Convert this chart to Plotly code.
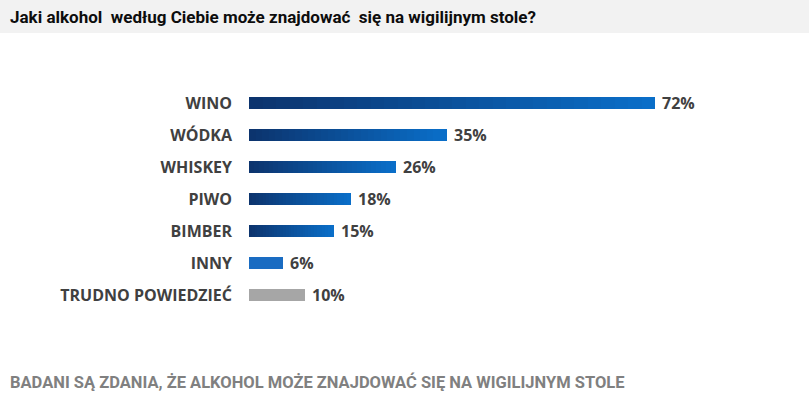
import plotly.graph_objects as go

categories = ["WINO", "WÓDKA", "WHISKEY", "PIWO", "BIMBER", "INNY", "TRUDNO POWIEDZIEĆ"]
values = [72, 35, 26, 18, 15, 6, 10]
value_labels = ["72%", "35%", "26%", "18%", "15%", "6%", "10%"]
bar_style = ["gradient", "gradient", "gradient", "gradient", "gradient", "flat", "gray"]

title_text = "Jaki alkohol  według Ciebie może znajdować  się na wigilijnym stole?"
footer_text = "BADANI SĄ ZDANIA, ŻE ALKOHOL MOŻE ZNAJDOWAĆ SIĘ NA WIGILIJNYM STOLE"

DARK = (12, 52, 110)
BRIGHT = (10, 110, 200)
FLAT = "#1a6cc2"
GRAY = "#a6a6a6"
N = 30

W_PLOT = 507.6
H_PLOT = 224.0

def lerp(c1, c2, t):
    return "rgb(%d,%d,%d)" % tuple(round(a + (b - a) * t) for a, b in zip(c1, c2))

fig = go.Figure()
for k in range(N):
    t = k / (N - 1)
    cols = []
    for s in bar_style:
        if s == "gradient":
            cols.append(lerp(DARK, BRIGHT, t))
        elif s == "flat":
            cols.append(FLAT)
        else:
            cols.append(GRAY)
    fig.add_trace(go.Bar(
        y=categories, x=[v / N for v in values], orientation="h",
        marker=dict(color=cols, line=dict(width=0)),
        showlegend=False, hoverinfo="skip",
    ))

for cat, v, lab in zip(categories, values, value_labels):
    fig.add_annotation(x=v, y=cat, xref="x", yref="y", text=lab, showarrow=False,
                       xanchor="left", yanchor="middle", xshift=5,
                       font=dict(family="Open Sans", size=16, color="#404040", weight="bold"))

fig.update_layout(
    width=809, height=399,
    margin=dict(l=249, r=52, t=87, b=88),
    paper_bgcolor="white", plot_bgcolor="white",
    barmode="stack", bargap=0.62,
    xaxis=dict(range=[0, 90], visible=False, fixedrange=True),
    yaxis=dict(categoryorder="array", categoryarray=categories, autorange="reversed",
               showgrid=False, zeroline=False, showline=False, ticks="",
               ticklabelstandoff=16, fixedrange=True,
               tickfont=dict(family="Open Sans", size=16, color="#404040", weight="bold")),
    font=dict(family="Open Sans"),
)

fig.add_shape(type="rect", xref="paper", yref="paper",
              x0=-249 / W_PLOT, x1=560 / W_PLOT, y0=278 / H_PLOT, y1=311 / H_PLOT,
              fillcolor="#f2f2f2", line=dict(width=0), layer="below")

fig.add_annotation(text=title_text, xref="paper", yref="paper",
                   x=-241 / W_PLOT, y=(311 - 17) / H_PLOT, xanchor="left", yanchor="middle",
                   showarrow=False,
                   font=dict(family="Roboto", size=17, color="#0d0d0d", weight="bold"))
fig.add_annotation(text=footer_text, xref="paper", yref="paper",
                   x=-241 / W_PLOT, y=(311 - 382) / H_PLOT, xanchor="left", yanchor="middle",
                   showarrow=False,
                   font=dict(family="Roboto", size=16.5, color="#808080", weight="bold"))

fig.write_html("out.html", config={"displayModeBar": False},
               post_script="document.body.style.margin='0px';")
